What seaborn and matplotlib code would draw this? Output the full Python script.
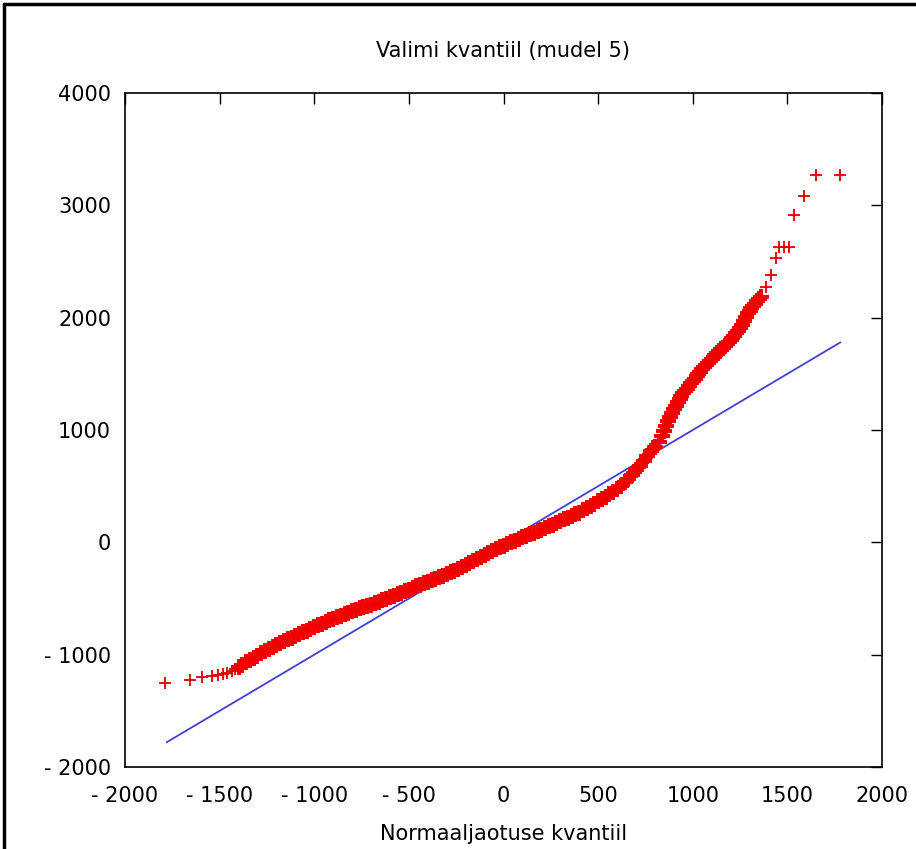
import numpy as np
import pandas as pd
import seaborn as sns
import matplotlib
matplotlib.use("Agg")
import matplotlib.pyplot as plt
from matplotlib.lines import Line2D

# Sparse lower tail (normal quantile, sample quantile)
low_x = [-1788, -1656, -1593, -1540, -1508, -1481, -1460, -1434, -1420]
low_y = [-1251, -1225, -1198, -1190, -1180, -1172, -1163, -1145, -1130]

# Dense band
band_x = [
    -1400, -1380, -1360, -1340, -1320, -1300, -1280, -1260, -1240, -1220,
    -1200, -1180, -1160, -1140, -1120, -1100, -1080, -1060, -1040, -1020,
    -1000, -980, -960, -940, -920, -900, -880, -860, -840, -820,
    -800, -780, -760, -740, -720, -700, -680, -660, -640, -620,
    -600, -580, -560, -540, -520, -500, -480, -460, -440, -420,
    -400, -380, -360, -340, -320, -300, -280, -260, -240, -220,
    -200, -180, -160, -140, -120, -100, -80, -60, -40, -20,
    0, 20, 40, 60, 80, 100, 120, 140, 160, 180,
    200, 220, 240, 260, 280, 300, 320, 340, 360, 380,
    400, 420, 440, 460, 480, 500, 520, 540, 560, 580,
    600, 620, 640, 660, 680, 700, 720, 740, 760, 780,
    800, 820, 840, 850, 860, 870, 880, 890, 900, 910,
    920, 930, 940, 950, 960, 970, 980, 990, 1000, 1010,
    1020, 1030, 1040, 1050, 1060, 1070, 1080, 1090, 1100, 1110,
    1120, 1130, 1140, 1150, 1160, 1170, 1180, 1190, 1200, 1210,
    1220, 1230, 1240, 1250, 1260, 1270, 1280, 1290, 1300, 1310,
    1320, 1330, 1340, 1350, 1360,
]
band_y = [
    -1111, -1090, -1069, -1048, -1028, -1008, -988, -968, -950, -932,
    -914, -896, -880, -864, -848, -832, -817, -801, -786, -770,
    -755, -739, -723, -708, -694, -681, -667, -654, -640, -627,
    -614, -600, -589, -577, -566, -554, -541, -528, -515, -501,
    -488, -474, -461, -448, -434, -420, -407, -393, -379, -366,
    -352, -339, -325, -312, -298, -283, -268, -252, -237, -221,
    -203, -184, -166, -147, -129, -112, -95, -78, -61, -44,
    -29, -14, 1, 16, 31, 46, 59, 73, 86, 99,
    113, 128, 143, 158, 173, 188, 204, 219, 234, 250,
    265, 284, 304, 324, 344, 364, 386, 408, 430, 452,
    477, 505, 533, 563, 602, 641, 680, 722, 766, 810,
    850, 891, 950, 992, 1034, 1076, 1118, 1153, 1184, 1214,
    1245, 1275, 1303, 1325, 1347, 1369, 1392, 1414, 1436, 1457,
    1477, 1498, 1518, 1539, 1559, 1580, 1600, 1617, 1634, 1650,
    1667, 1684, 1701, 1717, 1734, 1751, 1768, 1785, 1801, 1818,
    1837, 1861, 1885, 1909, 1938, 1972, 2006, 2040, 2063, 2084,
    2105, 2126, 2147, 2167, 2186,
]

# Sparse upper tail
high_x = [1386, 1413, 1439, 1455, 1481, 1508, 1534, 1587, 1651, 1778]
high_y = [2274, 2381, 2532, 2630, 2630, 2630, 2916, 3085, 3272, 3272]

# Reference line y = x
line_x = [-1780, 1780]
line_y = [-1780, 1780]

title_text = "Valimi kvantiil (mudel 5)"
xlabel_text = "Normaaljaotuse kvantiil"
x_ticks = [-2000, -1500, -1000, -500, 0, 500, 1000, 1500, 2000]
y_ticks = [-2000, -1000, 0, 1000, 2000, 3000, 4000]

sns.set_theme(style="white")
plt.rcParams['font.family'] = ['DejaVu Sans']

fig = plt.figure(figsize=(9.16, 8.49), dpi=100)
ax = fig.add_axes([125/916, 1-767/849, (882-125)/916, (767-93)/849])

band = pd.DataFrame({"x": band_x, "y": band_y})
tails = pd.DataFrame({"x": low_x + high_x, "y": low_y + high_y})
ln = pd.DataFrame({"x": line_x, "y": line_y})

red = "#f20000"
sns.lineplot(data=ln, x="x", y="y", ax=ax, color="#4040d8", linewidth=1.3, zorder=2)
sns.scatterplot(data=band, x="x", y="y", ax=ax, marker="+", s=125, color=red,
                linewidth=2.8, zorder=3)
sns.scatterplot(data=tails, x="x", y="y", ax=ax, marker="+", s=80, color="#dd0000",
                linewidth=1.3, zorder=3)

ax.set_xlim(-2000, 2000)
ax.set_ylim(-2000, 4000)
ax.set_xticks(x_ticks)
ax.set_yticks(y_ticks)
fmt = lambda t: f"- {abs(t)}" if t < 0 else f"{t}"
ax.set_xticklabels([fmt(t) for t in x_ticks])
ax.set_yticklabels([fmt(t) for t in y_ticks])
ax.tick_params(direction="in", length=8, width=1, top=True, right=True,
               labelsize=15, colors="black")
ax.tick_params(axis="x", pad=14)
ax.tick_params(axis="y", pad=10)
for sp in ax.spines.values():
    sp.set_color("black")
    sp.set_linewidth(1.2)
ax.set_xlabel(xlabel_text, fontsize=15, labelpad=13, color="black")
ax.set_ylabel("")
ax.set_title(title_text, fontsize=15, pad=26, color="black")

# outer frame (left and top edges)
fig.add_artist(Line2D([4/916, 4/916], [0, 1-4/849], transform=fig.transFigure,
                      color="black", linewidth=2.5))
fig.add_artist(Line2D([4/916, 1], [1-4/849, 1-4/849], transform=fig.transFigure,
                      color="black", linewidth=2.5))

fig.savefig("out.png", dpi=100, facecolor="white")
